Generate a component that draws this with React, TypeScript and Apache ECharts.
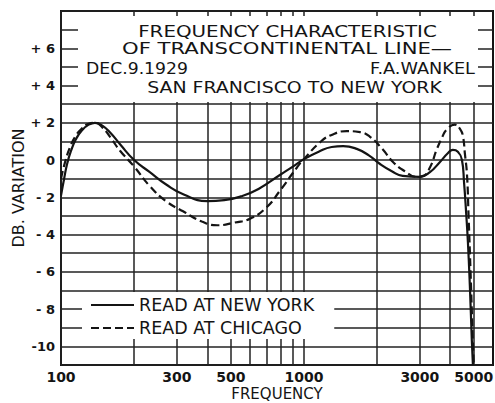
import React, { useEffect, useRef } from 'react';
import * as echarts from 'echarts';

// ---- data ----
const nyFreq = [100, 103, 106, 110, 115, 122, 130, 138, 148, 160, 175, 200, 232, 270, 320, 400, 470, 550, 650, 796, 900, 1000, 1150, 1300, 1450, 1650, 1850, 2050, 2300, 2550, 3000, 3300, 3630, 3900, 4100, 4300, 4470, 4560, 4650, 4730, 4820, 4910, 4960];
const nyDb = [-1.9, -1.0, -0.2, 0.5, 1.1, 1.6, 1.9, 2.0, 1.85, 1.45, 0.85, 0.0, -0.65, -1.3, -1.85, -2.2, -2.15, -1.95, -1.55, -0.8, -0.35, 0.05, 0.45, 0.7, 0.75, 0.6, 0.25, -0.2, -0.6, -0.85, -0.9, -0.65, -0.1, 0.35, 0.55, 0.45, 0.0, -1.2, -2.8, -4.4, -6.8, -9.7, -11];

const chiFreq = [100, 104, 109, 115, 122, 130, 138, 148, 160, 175, 200, 232, 270, 318, 380, 440, 520, 600, 700, 796, 936, 1000, 1164, 1300, 1500, 1700, 1870, 2100, 2325, 2600, 2917, 3100, 3300, 3527, 3700, 3875, 4180, 4400, 4510, 4600, 4690, 4760, 4850, 4950, 5000];
const chiDb = [-1.0, -0.1, 0.7, 1.3, 1.7, 1.95, 2.0, 1.75, 1.2, 0.5, -0.35, -1.4, -2.2, -2.75, -3.3, -3.5, -3.35, -3.15, -2.55, -1.65, -0.4, 0.05, 0.95, 1.35, 1.55, 1.5, 1.25, 0.6, -0.1, -0.6, -0.9, -0.85, -0.4, 0.6, 1.2, 1.65, 1.9, 1.65, 1.3, 0.3, -0.8, -3.0, -6.0, -9.5, -11];

const seriesNames = ['READ AT NEW YORK', 'READ AT CHICAGO'];

const xLabelValues = [100, 300, 500, 1000, 3000, 5000];
const xGridValues = [100, 200, 300, 400, 500, 600, 700, 800, 900, 1000, 2000, 3000, 4000, 5000];
const yTickValues = [6, 4, 2, 0, -2, -4, -6, -8, -10];
const yTickLabels = ['+ 6', '+ 4', '+ 2', '0', '- 2', '- 4', '- 6', '- 8', '-10'];

const titleTexts = ['FREQUENCY CHARACTERISTIC', 'OF TRANSCONTINENTAL LINE—', 'DEC.9.1929', 'F.A.WANKEL', 'SAN FRANCISCO TO NEW YORK'];
const xName = 'FREQUENCY';
const yName = 'DB. VARIATION';

// ---- layout (pixels) ----
const titleLayout = [
  { cx: 287.5, cy: 31, w: 299 },
  { cx: 287, cy: 48.5, w: 330 },
  { cx: 137, cy: 68.5, w: 102 },
  { cx: 422.5, cy: 68.5, w: 105 },
  { cx: 294.5, cy: 87.5, w: 295 },
];

export default function App() {
  const ref = useRef<HTMLDivElement>(null);

  useEffect(() => {
    const chart = echarts.init(ref.current as HTMLDivElement, null, { renderer: 'svg' });
    const ink = '#141414';
    const family = '"DejaVu Sans", sans-serif';

    const ctx = document.createElement('canvas').getContext('2d') as CanvasRenderingContext2D;
    const measure = (text: string, font: string) => {
      ctx.font = font;
      return ctx.measureText(text).width || 1;
    };

    const titleFont = `16px ${family}`;
    const titleEls = titleTexts.map((t, i) => {
      const l = titleLayout[i];
      return {
        type: 'text',
        x: l.cx,
        y: l.cy,
        scaleX: l.w / measure(t, titleFont),
        z: 2,
        style: {
          text: t,
          font: titleFont,
          fill: ink,
          align: 'center',
          verticalAlign: 'middle',
          textAlign: 'center',
          textVerticalAlign: 'middle',
        },
      };
    });

    const option: any = {
      animation: false,
      backgroundColor: '#ffffff',
      grid: {
        left: 61,
        right: 2,
        top: 11,
        bottom: 38,
        containLabel: false,
        outerBoundsMode: 'none',
        show: true,
        borderColor: ink,
        borderWidth: 2,
      },
      xAxis: {
        type: 'log',
        logBase: 10,
        min: 100,
        max: 6000,
        name: xName,
        nameLocation: 'middle',
        nameGap: 21,
        nameMoveOverlap: false,
        nameTextStyle: { fontFamily: family, fontSize: 15, color: ink, lineHeight: 15 },
        axisLine: { show: false },
        axisTick: { show: false, customValues: xGridValues },
        axisLabel: {
          customValues: xLabelValues,
          margin: 5,
          color: ink,
          fontFamily: family,
          fontSize: 14,
          lineHeight: 14,
          fontWeight: 'bold',
          formatter: (v: number) => String(Math.round(v)),
        },
        splitLine: { show: true, lineStyle: { color: '#222', width: 1.5 } },
      },
      yAxis: {
        type: 'value',
        min: -11,
        max: 8,
        interval: 1,
        name: yName,
        nameLocation: 'middle',
        nameGap: 35,
        nameMoveOverlap: false,
        nameTextStyle: { fontFamily: family, fontSize: 16, color: ink },
        axisLine: { show: false },
        axisTick: { show: false },
        axisLabel: {
          margin: 6,
          color: ink,
          fontFamily: family,
          fontSize: 13,
          fontWeight: 'bold',
          formatter: (v: number) => {
            const i = yTickValues.indexOf(Math.round(v));
            return i >= 0 && Math.abs(v - Math.round(v)) < 1e-6 ? yTickLabels[i] : '';
          },
        },
        splitLine: { show: true, lineStyle: { color: '#222', width: 1.5 } },
      },
      legend: {
        data: seriesNames,
        orient: 'vertical',
        left: 82,
        top: 292,
        padding: [4, 20, 2, 8],
        itemGap: 5,
        itemWidth: 43,
        itemHeight: 14,
        backgroundColor: '#ffffff',
        selectedMode: false,
        itemStyle: { opacity: 0 },
        textStyle: { fontFamily: family, fontSize: 17.5, color: ink },
      },
      graphic: {
        z: 1,
        elements: [
          {
            type: 'rect',
            shape: { x: 78, y: 16, width: 400, height: 86 },
            style: { fill: '#ffffff' },
            z: 1,
          },
          ...titleEls,
        ],
      },
      series: [
        {
          name: seriesNames[0],
          type: 'line',
          z: 3,
          data: nyFreq.map((f, i) => [f, nyDb[i]]),
          smooth: 0.5,
          showSymbol: false,
          symbol: 'none',
          lineStyle: { color: ink, width: 2.2, type: 'solid' },
          itemStyle: { color: ink },
        },
        {
          name: seriesNames[1],
          type: 'line',
          z: 3,
          data: chiFreq.map((f, i) => [f, chiDb[i]]),
          smooth: 0.5,
          showSymbol: false,
          symbol: 'none',
          lineStyle: { color: ink, width: 2.2, type: [8, 4] },
          itemStyle: { color: ink },
        },
      ],
    };

    chart.setOption(option);
    return () => chart.dispose();
  }, []);

  return (
    <div
      ref={ref}
      style={{ position: 'fixed', left: 0, top: 0, width: 495, height: 403, background: '#ffffff' }}
    />
  );
}
